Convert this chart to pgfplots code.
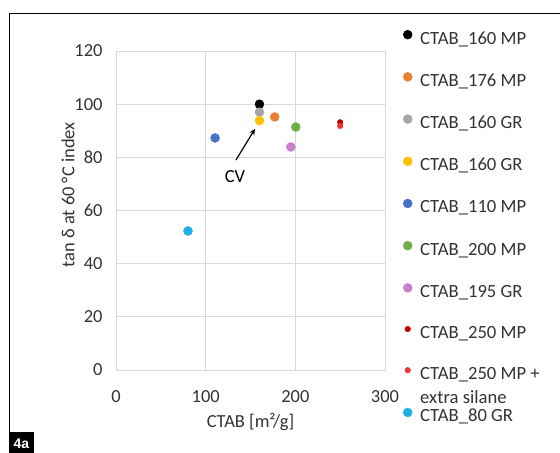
\documentclass[border=0pt]{standalone}
\usepackage{pgfplots}
\pgfplotsset{compat=1.18}
\usepackage{fontspec}
\setmainfont{Carlito}
\newfontfamily\labfont{Liberation Sans}
\usetikzlibrary{arrows.meta}
\definecolor{txt}{HTML}{333333}
\definecolor{grd}{HTML}{D9D9D9}
\definecolor{cOrange}{HTML}{ED7D31}
\definecolor{cGray}{HTML}{A5A5A5}
\definecolor{cGold}{HTML}{FFC000}
\definecolor{cBlue}{HTML}{4472C4}
\definecolor{cGreen}{HTML}{70AD47}
\definecolor{cPurple}{HTML}{C67FCB}
\definecolor{cDarkRed}{HTML}{C00000}
\definecolor{cRed}{HTML}{F2303A}
\definecolor{cCyan}{HTML}{1CAEE5}
\begin{document}
\begin{tikzpicture}
\path[use as bounding box] (0,0) rectangle (560bp,-453bp);
\draw[line width=0.8bp] (560bp,-13bp) -- (9bp,-13bp) -- (9bp,-432bp);
\fill[black] (9bp,-432bp) rectangle (34bp,-453bp);
\node[text=white, font=\labfont\bfseries\fontsize{14}{16}\selectfont, inner sep=0pt] at (21.5bp,-444bp) {4a};
\begin{axis}[
  at={(116bp,-370bp)}, anchor=south west,
  scale only axis, width=269bp, height=319bp,
  xmin=0, xmax=300, ymin=0, ymax=120,
  xtick={0,100,200,300}, ytick={0,20,40,60,80,100,120},
  grid=major, major grid style={grd, line width=0.8bp},
  axis line style={grd, line width=0.8bp},
  major tick length=0pt,
  font=\fontsize{18.5}{22}\selectfont,
  /pgf/number format/assume math mode=true,
  tick label style={text=txt, font=\fontsize{18.5}{22}\selectfont},
  xticklabel style={anchor=base, yshift=-32bp},
  yticklabel style={anchor=east, xshift=-10bp},
  xlabel={CTAB [m²/g]},
  ylabel={tan δ at 60 °C index},
  label style={text=txt, font=\fontsize{18.5}{22}\selectfont},
  xlabel style={at={(axis description cs:0.5,-0.179)}, anchor=base},
  ylabel style={at={(axis description cs:-0.178,0.549)}, anchor=center},
  legend cell align=left,
  legend style={at={(axis description cs:1.067,1.066)}, anchor=north west,
    draw=none, fill=none, inner sep=0pt, row sep=24.2bp, column sep=0pt,
    font=\fontsize{18.7}{22}\selectfont, text=txt,
    nodes={inner sep=0pt, text height=13bp, text depth=4bp}},
  legend image code/.code={\draw[#1] plot coordinates {(0bp,5bp)};},
  every axis plot/.append style={only marks, mark=*, mark size=4.5bp},
  clip=false,
]
\addplot[mark options={draw=black, fill=black}] coordinates {(160,100)};
\addlegendentry{\hspace{8bp}CTAB\_160 MP}
\addplot[mark options={draw=cOrange, fill=cOrange}] coordinates {(177,95.2)};
\addlegendentry{\hspace{8bp}CTAB\_176 MP}
\addplot[mark options={draw=cGray, fill=cGray}] coordinates {(160,97)};
\addlegendentry{\hspace{8bp}CTAB\_160 GR}
\addplot[mark options={draw=cGold, fill=cGold}] coordinates {(160,93.8)};
\addlegendentry{\hspace{8bp}CTAB\_160 GR}
\addplot[mark options={draw=cBlue, fill=cBlue}] coordinates {(110.5,87.3)};
\addlegendentry{\hspace{8bp}CTAB\_110 MP}
\addplot[mark options={draw=cGreen, fill=cGreen}] coordinates {(200.5,91.4)};
\addlegendentry{\hspace{8bp}CTAB\_200 MP}
\addplot[mark options={draw=cPurple, fill=cPurple}] coordinates {(195,83.9)};
\addlegendentry{\hspace{8bp}CTAB\_195 GR}
\addplot[mark size=2.8bp, mark options={draw=cDarkRed, fill=cDarkRed}] coordinates {(250,93.2)};
\addlegendentry{\hspace{8bp}CTAB\_250 MP}
\addplot[mark size=2.8bp, mark options={draw=cRed, fill=cRed}] coordinates {(250,91.8)};
\addlegendentry{\hspace{8bp}\smash{\vtop{\baselineskip=24bp\hbox{CTAB\_250 MP +}\hbox{extra silane}}}}
\addplot[mark options={draw=cCyan, fill=cCyan}] coordinates {(80.3,52.3)};
\addlegendentry{\hspace{8bp}CTAB\_80 GR}
\draw[-{Stealth[length=6bp,width=5.5bp]}, line width=1.2bp] (axis cs:133.8,79) -- (axis cs:155,90.7);
\node[font=\fontsize{18.5}{22}\selectfont, text=black] at (axis cs:132.7,72.6) {CV};
\end{axis}
\end{tikzpicture}
\end{document}
